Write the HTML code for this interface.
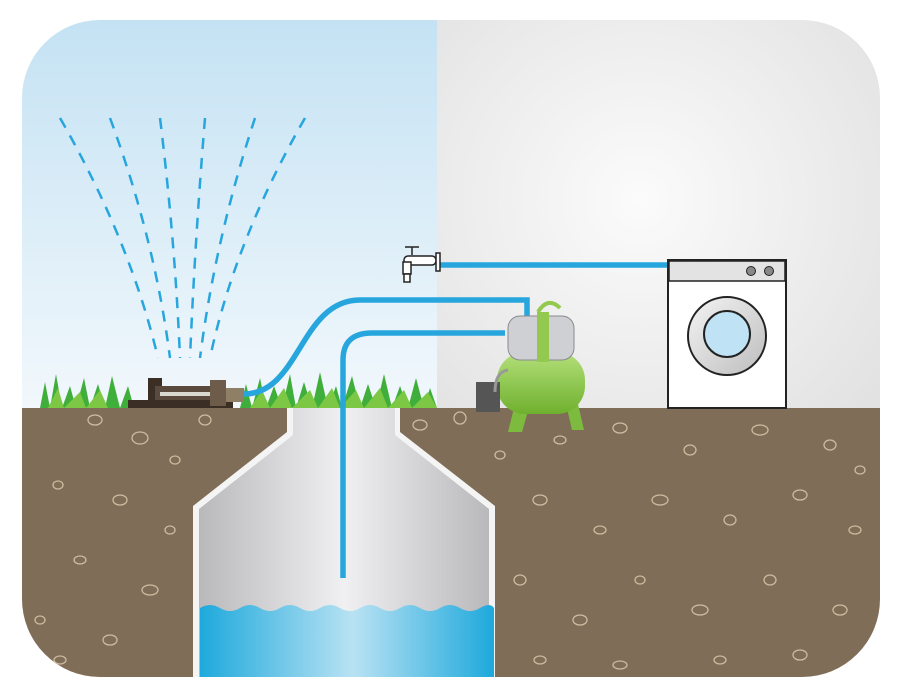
<!DOCTYPE html>
<html><head><meta charset="utf-8"><style>html,body{margin:0;padding:0;background:#fff}svg{display:block}</style></head><body>
<svg width="900" height="700" viewBox="0 0 900 700" xmlns="http://www.w3.org/2000/svg">
<defs>
<clipPath id="fr"><rect x="22" y="20" width="858" height="657" rx="78" ry="78"/></clipPath>
<linearGradient id="sky" x1="0" y1="0" x2="0" y2="1"><stop offset="0" stop-color="#c2e1f3"/><stop offset="1" stop-color="#f2f8fc"/></linearGradient>
<radialGradient id="wall" cx="640" cy="200" r="380" gradientUnits="userSpaceOnUse"><stop offset="0" stop-color="#fbfbfb"/><stop offset="1" stop-color="#dcdcdc"/></radialGradient>
<linearGradient id="well" x1="0" y1="0" x2="1" y2="0"><stop offset="0" stop-color="#b9b9bb"/><stop offset="0.5" stop-color="#f0f0f2"/><stop offset="1" stop-color="#b9b9bb"/></linearGradient>
<linearGradient id="water" x1="0" y1="0" x2="1" y2="0"><stop offset="0" stop-color="#1ea9dc"/><stop offset="0.52" stop-color="#b9e2f3"/><stop offset="1" stop-color="#1ea9dc"/></linearGradient>
<linearGradient id="tank" x1="0" y1="0" x2="0" y2="1"><stop offset="0" stop-color="#b4e07a"/><stop offset="1" stop-color="#6fb02e"/></linearGradient>
<linearGradient id="door" x1="0" y1="0" x2="1" y2="1"><stop offset="0" stop-color="#f4f4f4"/><stop offset="1" stop-color="#bdbdbd"/></linearGradient>
</defs>
<g clip-path="url(#fr)">
<rect x="0" y="0" width="437" height="410" fill="url(#sky)"/>
<rect x="437" y="0" width="463" height="410" fill="url(#wall)"/>
<rect x="0" y="408" width="900" height="300" fill="#7f6d58"/>
<g fill="none" stroke="#cdbb9f" stroke-width="1.3">
<ellipse cx="95" cy="420" rx="7" ry="5"/><ellipse cx="140" cy="438" rx="8" ry="6"/><ellipse cx="205" cy="420" rx="6" ry="5"/><ellipse cx="58" cy="485" rx="5" ry="4"/><ellipse cx="120" cy="500" rx="7" ry="5"/><ellipse cx="80" cy="560" rx="6" ry="4"/><ellipse cx="150" cy="590" rx="8" ry="5"/><ellipse cx="40" cy="620" rx="5" ry="4"/><ellipse cx="110" cy="640" rx="7" ry="5"/><ellipse cx="170" cy="530" rx="5" ry="4"/><ellipse cx="60" cy="660" rx="6" ry="4"/><ellipse cx="175" cy="460" rx="5" ry="4"/>
<ellipse cx="420" cy="425" rx="7" ry="5"/><ellipse cx="460" cy="418" rx="6" ry="6"/><ellipse cx="500" cy="455" rx="5" ry="4"/><ellipse cx="560" cy="440" rx="6" ry="4"/><ellipse cx="620" cy="428" rx="7" ry="5"/><ellipse cx="690" cy="450" rx="6" ry="5"/><ellipse cx="760" cy="430" rx="8" ry="5"/><ellipse cx="830" cy="445" rx="6" ry="5"/><ellipse cx="540" cy="500" rx="7" ry="5"/><ellipse cx="600" cy="530" rx="6" ry="4"/><ellipse cx="660" cy="500" rx="8" ry="5"/><ellipse cx="730" cy="520" rx="6" ry="5"/><ellipse cx="800" cy="495" rx="7" ry="5"/><ellipse cx="855" cy="530" rx="6" ry="4"/><ellipse cx="520" cy="580" rx="6" ry="5"/><ellipse cx="580" cy="620" rx="7" ry="5"/><ellipse cx="640" cy="580" rx="5" ry="4"/><ellipse cx="700" cy="610" rx="8" ry="5"/><ellipse cx="770" cy="580" rx="6" ry="5"/><ellipse cx="840" cy="610" rx="7" ry="5"/><ellipse cx="540" cy="660" rx="6" ry="4"/><ellipse cx="620" cy="665" rx="7" ry="4"/><ellipse cx="720" cy="660" rx="6" ry="4"/><ellipse cx="800" cy="655" rx="7" ry="5"/><ellipse cx="860" cy="470" rx="5" ry="4"/>
</g>
<!-- well -->
<path d="M287 408 V432 L193 506 V680 H495 V506 L400 432 V408 Z" fill="#f4f4f4"/>
<path d="M293 408 V435 L199 509 V680 H489 V509 L395 435 V408 Z" fill="url(#well)"/>
<path d="M200 608 q10 -6 20 0 t20 0 t20 0 t20 0 t20 0 t20 0 t20 0 t20 0 t20 0 t20 0 t20 0 t20 0 t20 0 t20 0 t14 0 V680 H200 Z" fill="url(#water)"/>
<!-- grass -->
<g fill="#3fae3a">
<path d="M40 408 L45 382 L50 408 L56 374 L62 408 L70 386 L76 408 L84 378 L90 408 L98 384 L105 408 L112 376 L120 408 L128 386 L134 408 L240 408 L246 384 L252 408 L260 378 L266 408 L274 386 L282 408 L290 374 L296 408 L304 382 L312 408 L320 372 L328 408 L336 386 L342 408 L352 376 L360 408 L368 384 L376 408 L384 374 L392 408 L400 386 L408 408 L416 378 L424 408 L430 388 L437 408 Z"/>
</g>
<g fill="#7cc845">
<path d="M48 408 L58 388 L64 408 L80 392 L86 408 L100 390 L108 408 L250 408 L262 390 L270 408 L284 388 L292 408 L310 390 L318 408 L332 388 L340 408 L356 390 L364 408 L380 388 L388 408 L404 390 L412 408 L428 392 L437 408 Z"/>
</g>
<!-- sprinkler -->
<rect x="128" y="400" width="105" height="8" fill="#3a2e25"/>
<rect x="148" y="378" width="14" height="28" fill="#3a2e25"/>
<rect x="155" y="386" width="60" height="14" fill="#5a4a3e"/>
<rect x="160" y="392" width="50" height="4" fill="#d8d8d0"/>
<rect x="210" y="380" width="16" height="26" fill="#6e5c4a"/>
<rect x="226" y="388" width="18" height="14" fill="#8f7f66"/>
<!-- spray -->
<g fill="none" stroke="#27a6de" stroke-width="2.5" stroke-dasharray="11 9">
<path d="M60 118 Q130 240 158 358"/><path d="M110 118 Q155 240 170 358"/><path d="M160 118 Q175 240 180 358"/><path d="M205 118 Q195 240 190 358"/><path d="M255 118 Q215 240 200 358"/><path d="M305 118 Q235 240 210 358"/>
</g>
<!-- pipes -->
<g fill="none" stroke="#27a6de" stroke-width="5.5">
<path d="M244 394 C300 394 300 300 360 300 H527 V320"/>
<path d="M343 578 V360 Q343 333 372 333 H505"/>
<path d="M437 265 H668"/>
</g>
<!-- tap -->
<g fill="#fff" stroke="#222" stroke-width="1.5">
<path d="M405 247 h14 M412 247 v8"/>
<rect x="404" y="256" width="32" height="9" rx="4"/>
<rect x="436" y="253" width="4" height="18"/>
<rect x="403" y="262" width="8" height="12"/>
<rect x="404" y="274" width="6" height="8"/>
</g>
<!-- pump -->
<path d="M515 404 L508 432 H522 L530 404 Z M566 404 L572 430 H584 L578 404 Z" fill="#7dbb3e"/>
<rect x="497" y="352" width="88" height="62" rx="28" fill="url(#tank)"/>
<rect x="508" y="316" width="66" height="44" rx="12" fill="#cfd0d3" stroke="#8a8a8e"/>
<rect x="537" y="312" width="12" height="50" fill="#93c94f"/>
<path d="M538 312 q10 -16 22 -4" fill="none" stroke="#93c94f" stroke-width="4"/>
<rect x="476" y="382" width="24" height="30" fill="#555"/>
<path d="M508 370 Q495 372 495 392" stroke="#999" stroke-width="3" fill="none"/>
<!-- washing machine -->
<rect x="668" y="260" width="118" height="148" fill="#fff" stroke="#222" stroke-width="2"/>
<rect x="669" y="261" width="116" height="20" fill="#e3e3e3" stroke="#222" stroke-width="1.5"/>
<circle cx="751" cy="271" r="4.5" fill="#888" stroke="#222"/><circle cx="769" cy="271" r="4.5" fill="#888" stroke="#222"/>
<circle cx="727" cy="336" r="39" fill="url(#door)" stroke="#222" stroke-width="2"/>
<circle cx="727" cy="334" r="23" fill="#bfe3f4" stroke="#222" stroke-width="2"/>
</g>
</svg>
</body></html>
